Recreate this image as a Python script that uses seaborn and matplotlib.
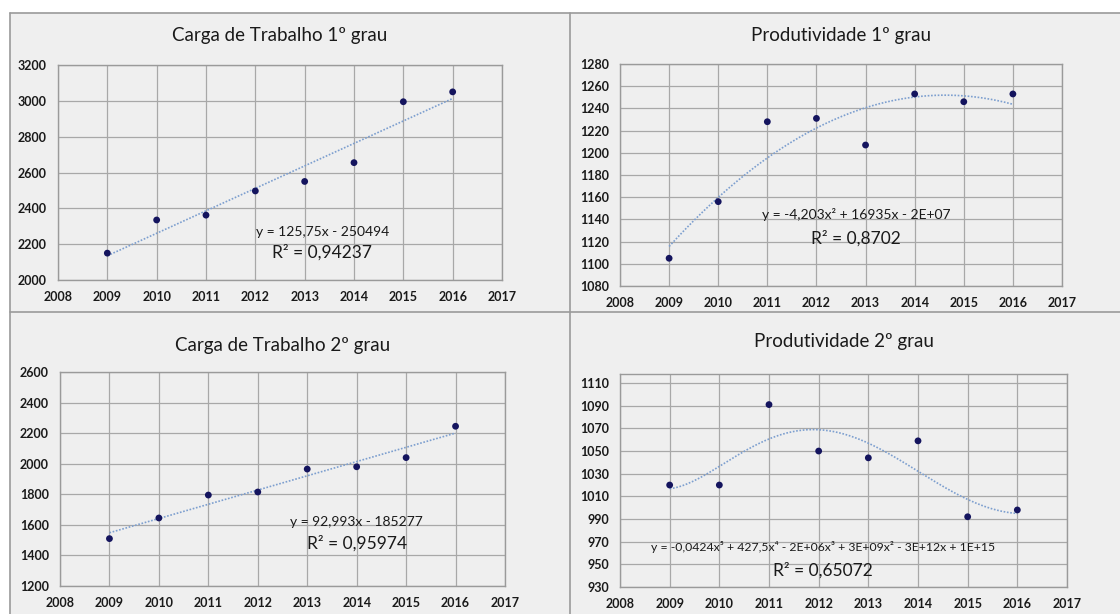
import numpy as np
import pandas as pd
import matplotlib
matplotlib.use("Agg")
import matplotlib.pyplot as plt
from matplotlib.lines import Line2D
import seaborn as sns

# ---- data ----
years = [2009, 2010, 2011, 2012, 2013, 2014, 2015, 2016]
carga_1 = [2150, 2335, 2362, 2497, 2550, 2655, 2995, 3050]
prod_1 = [1105, 1156, 1228, 1231, 1207, 1253, 1246, 1253]
carga_2 = [1510, 1645, 1795, 1815, 1965, 1980, 2040, 2245]
prod_2 = [1020, 1020, 1091, 1050, 1044, 1059, 992, 998]

titles = ["Carga de Trabalho 1º grau", "Produtividade 1º grau",
          "Carga de Trabalho 2º grau", "Produtividade 2º grau"]
equations = ["y = 125,75x - 250494",
             "y = -4,203x² + 16935x - 2E+07",
             "y = 92,993x - 185277",
             "y = -0,0424x⁵ + 427,5x⁴ - 2E+06x³ + 3E+09x² - 3E+12x + 1E+15"]
r2_labels = ["R² = 0,94237", "R² = 0,8702", "R² = 0,95974", "R² = 0,65072"]
degrees = [1, 2, 1, 5]
series = [carga_1, prod_1, carga_2, prod_2]
y_ranges = [(2000, 3200, 200), (1080, 1280, 20), (1200, 2600, 200), (930, 1110, 20)]
y_tops = [3200, 1280, 2600, 1118]
x_ticks = list(range(2008, 2018))

sns.set_style("whitegrid")
FONT = ["Lato", "DejaVu Sans"]
plt.rcParams["font.family"] = FONT

W, H = 1120, 614
fig = plt.figure(figsize=(W / 100, H / 100), dpi=100)
BG = "#efefef"
fig.patch.set_facecolor("white")

# panel background and borders
fig.add_artist(plt.Rectangle((10 / W, 0), 1 - 10 / W, 1 - 13 / H, transform=fig.transFigure,
                             facecolor=BG, edgecolor="none", zorder=-10))
border = "#9a9a9a"
for (x0, y0, x1, y1) in [(10, 13, W, 13), (10, 13, 10, H), (10, 312, W, 312), (570, 13, 570, H)]:
    fig.add_artist(Line2D([x0 / W, x1 / W], [1 - y0 / H, 1 - y1 / H], transform=fig.transFigure,
                          color=border, lw=1.2))

# axes boxes (pixels: left, top, right, bottom)
boxes = [(58, 65, 502, 280), (620, 64, 1062, 286), (60, 372, 505, 586), (620, 374, 1067, 587)]
title_y = [35, 35, 345, 342]
eq_pos = [(0.595, 0.225, 0.13), (0.534, 0.32, 0.216), (0.667, 0.30, 0.20), (0.454, 0.19, 0.08)]
eq_size = [10, 10, 10, 8.8]

for i in range(4):
    l, t, r, b = boxes[i]
    ax = fig.add_axes([l / W, 1 - b / H, (r - l) / W, (b - t) / H])
    ax.set_facecolor(BG)
    df = pd.DataFrame({"ano": years, "valor": series[i]})

    # trend line (polynomial fit, centered x for stability)
    xc = np.array(years, dtype=float) - 2012.5
    coef = np.polyfit(xc, np.array(series[i], dtype=float), degrees[i])
    xs = np.linspace(2009, 2016, 200)
    trend = pd.DataFrame({"ano": xs, "valor": np.polyval(coef, xs - 2012.5)})
    sns.lineplot(data=trend, x="ano", y="valor", ax=ax, color="#7d9fcf", lw=1.2,
                 linestyle=(0, (1, 1)), zorder=3)
    sns.scatterplot(data=df, x="ano", y="valor", ax=ax, color="#14145e", s=24,
                    edgecolor="none", zorder=4)

    y0, y1, step = y_ranges[i]
    ax.set_xlim(2008, 2017)
    ax.set_ylim(y0, y_tops[i])
    ax.set_xticks(x_ticks)
    ax.set_yticks(np.arange(y0, y1 + 1, step))
    ax.grid(True, color="#a8a8a8", lw=0.9)
    for s in ax.spines.values():
        s.set_color("#9a9a9a")
        s.set_linewidth(1.0)
    ax.tick_params(axis="both", length=0, labelsize=9, colors="#1a1a1a")
    ax.tick_params(axis="x", pad=8)
    ax.tick_params(axis="y", pad=8)
    for lab in ax.get_xticklabels() + ax.get_yticklabels():
        lab.set_fontweight("bold")
    ax.set_xlabel("")
    ax.set_ylabel("")

    cx = (l + r) / 2 / W
    fig.text(cx, 1 - title_y[i] / H, titles[i], ha="center", va="center",
             fontsize=13.5, color="#1a1a1a", family=FONT)
    ex, ey, ry = eq_pos[i]
    ax.text(ex, ey, equations[i], transform=ax.transAxes, ha="center", va="center",
            fontsize=eq_size[i], color="#1a1a1a", family=FONT)
    ax.text(ex, ry, r2_labels[i], transform=ax.transAxes, ha="center", va="center",
            fontsize=12.5, color="#1a1a1a", family=FONT)

fig.savefig("out.png", dpi=100, facecolor=fig.get_facecolor())
